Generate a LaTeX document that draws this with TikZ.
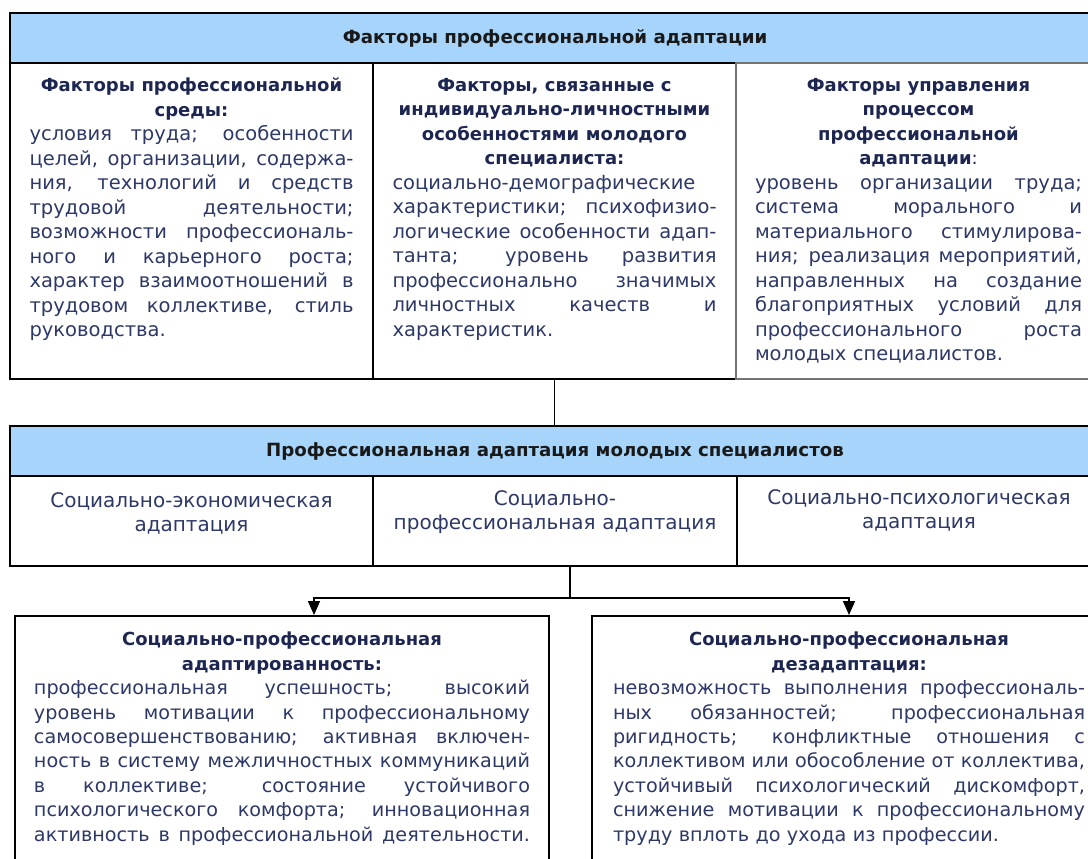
\documentclass[tikz,border=0pt]{standalone}
\usepackage{fontspec}
\setmainfont{DejaVu Sans}
\usetikzlibrary{arrows.meta}
\definecolor{headblue}{HTML}{A6D4FB}
\definecolor{headink}{HTML}{1C2650}
\definecolor{bodyink}{HTML}{2D3866}
\newcommand\jl[1]{\noindent\makebox[\hsize][s]{\spaceskip=0.3em plus 1fil minus 0.12em\relax #1}\par}
\newcommand\jend[1]{\noindent\makebox[\hsize][l]{#1}\par}
\newcommand\hd[1]{\noindent\makebox[\hsize][c]{\fontsize{18}{24.5}\selectfont\bfseries\color{headink}#1}\par}
\begin{document}
\begin{tikzpicture}[x=1pt,y=-1pt]
    \tikzset{
        cellbox/.style={draw,line width=2pt,anchor=north west,inner sep=0pt},
        headbox/.style={cellbox,fill=headblue,minimum width=1090pt,minimum height=50pt,
            font=\fontsize{18.2}{20}\selectfont\bfseries,text=black!90},
        celltext/.style={anchor=north,inner sep=0pt,text=bodyink,font=\fontsize{19.5}{24.5}\selectfont},
        link/.style={line width=1.5pt},
        drop/.style={link,-{Triangle[width=12pt,length=14pt]}}}
    \useasboundingbox (0,0) rectangle (1088,859);
    \clip (0,0) rectangle (1088,859);
    \node[headbox] (fhead) at (9,12) {Факторы профессиональной адаптации};
    \node[cellbox,minimum width=363pt,minimum height=316pt] (fac1) at (9,62) {};
    \node[cellbox,minimum width=363pt,minimum height=316pt] (fac2) at (372,62) {};
    \node[cellbox,draw=black!55,minimum width=365pt,minimum height=316pt] (fac3) at (735,62) {};
    \node[celltext,text width=324pt] (fac1t) at ([yshift=-16pt]fac1.north) {%
        \hd{Факторы профессиональной}\hd{среды:}
        \jl{условия труда; особенности}
        \jl{целей, организации, содержа-}
        \jl{ния, технологий и средств}
        \jl{трудовой деятельности;}
        \jl{возможности профессиональ-}
        \jl{ного и карьерного роста;}
        \jl{характер взаимоотношений в}
        \jl{трудовом коллективе, стиль}
        \jend{руководства.}};
    \node[celltext,text width=324pt] (fac2t) at ([yshift=-16pt]fac2.north) {%
        \hd{Факторы, связанные с}\hd{индивидуально-личностными}
        \hd{особенностями молодого}\hd{специалиста:}
        \jend{социально-демографические}
        \jl{характеристики; психофизио-}
        \jl{логические особенности адап-}
        \jl{танта; уровень развития}
        \jl{профессионально значимых}
        \jl{личностных качеств и}
        \jend{характеристик.}};
    \node[celltext,text width=327pt] (fac3t) at ([yshift=-16pt]fac3.north) {%
        \hd{Факторы управления}\hd{процессом}
        \hd{профессиональной}\hd{адаптации\mdseries:}
        \jl{уровень организации труда;}
        \jl{система морального и}
        \jl{материального стимулирова-}
        \jl{ния; реализация мероприятий,}
        \jl{направленных на создание}
        \jl{благоприятных условий для}
        \jl{профессионального роста}
        \jend{молодых специалистов.}};
    \node[headbox] (ahead) at (9,425) {Профессиональная адаптация молодых специалистов};
    \node[cellbox,minimum width=363pt,minimum height=90pt] (ad1) at (9,475) {};
    \node[cellbox,minimum width=364pt,minimum height=90pt] (ad2) at (372,475) {};
    \node[cellbox,minimum width=364pt,minimum height=90pt] (ad3) at (736,475) {};
    \node[celltext,align=center,text width=350pt,font=\fontsize{20}{24.5}\selectfont] (ad1t)
        at ([yshift=-17pt]ad1.north) {Социально-экономическая\\адаптация};
    \node[celltext,align=center,text width=350pt,font=\fontsize{20}{24.5}\selectfont] (ad2t)
        at ([yshift=-15pt]ad2.north) {Социально-\\профессиональная адаптация};
    \node[celltext,align=center,text width=350pt,font=\fontsize{20}{24.5}\selectfont] (ad3t)
        at ([yshift=-14pt]ad3.north) {Социально-психологическая\\адаптация};
    \node[cellbox,minimum width=534pt,minimum height=260pt] (res1) at (14,615) {};
    \node[cellbox,minimum width=514pt,minimum height=260pt] (res2) at (591,615) {};
    \node[celltext,text width=496pt,font=\fontsize{19.2}{24.4}\selectfont] (res1t)
        at ([yshift=-17pt]res1.north) {%
        \hd{Социально-профессиональная}\hd{адаптированность:}
        \jl{профессиональная успешность; высокий}
        \jl{уровень мотивации к профессиональному}
        \jl{самосовершенствованию; активная включен-}
        \jl{ность в систему межличностных коммуникаций}
        \jl{в коллективе; состояние устойчивого}
        \jl{психологического комфорта; инновационная}
        \jl{активность в профессиональной деятельности.}};
    \node[celltext,text width=472pt,font=\fontsize{19.2}{24.4}\selectfont] (res2t)
        at ([yshift=-17pt]res2.north) {%
        \hd{Социально-профессиональная}\hd{дезадаптация:}
        \jl{невозможность выполнения профессиональ-}
        \jl{ных обязанностей; профессиональная}
        \jl{ригидность; конфликтные отношения с}
        \jl{коллективом или обособление от коллектива,}
        \jl{устойчивый психологический дискомфорт,}
        \jl{снижение мотивации к профессиональному}
        \jend{труду вплоть до ухода из профессии.}};
    \draw[link] (fac2.south) -- (fac2.south |- ahead.north);
    \coordinate (fork) at (570,598);
    \draw[link] (fork |- ad2.south) -- (fork);
    \draw[drop] (fork) -| ([xshift=32pt]res1.north);
    \draw[drop] (fork) -| (res2.north);
\end{tikzpicture}
\end{document}
